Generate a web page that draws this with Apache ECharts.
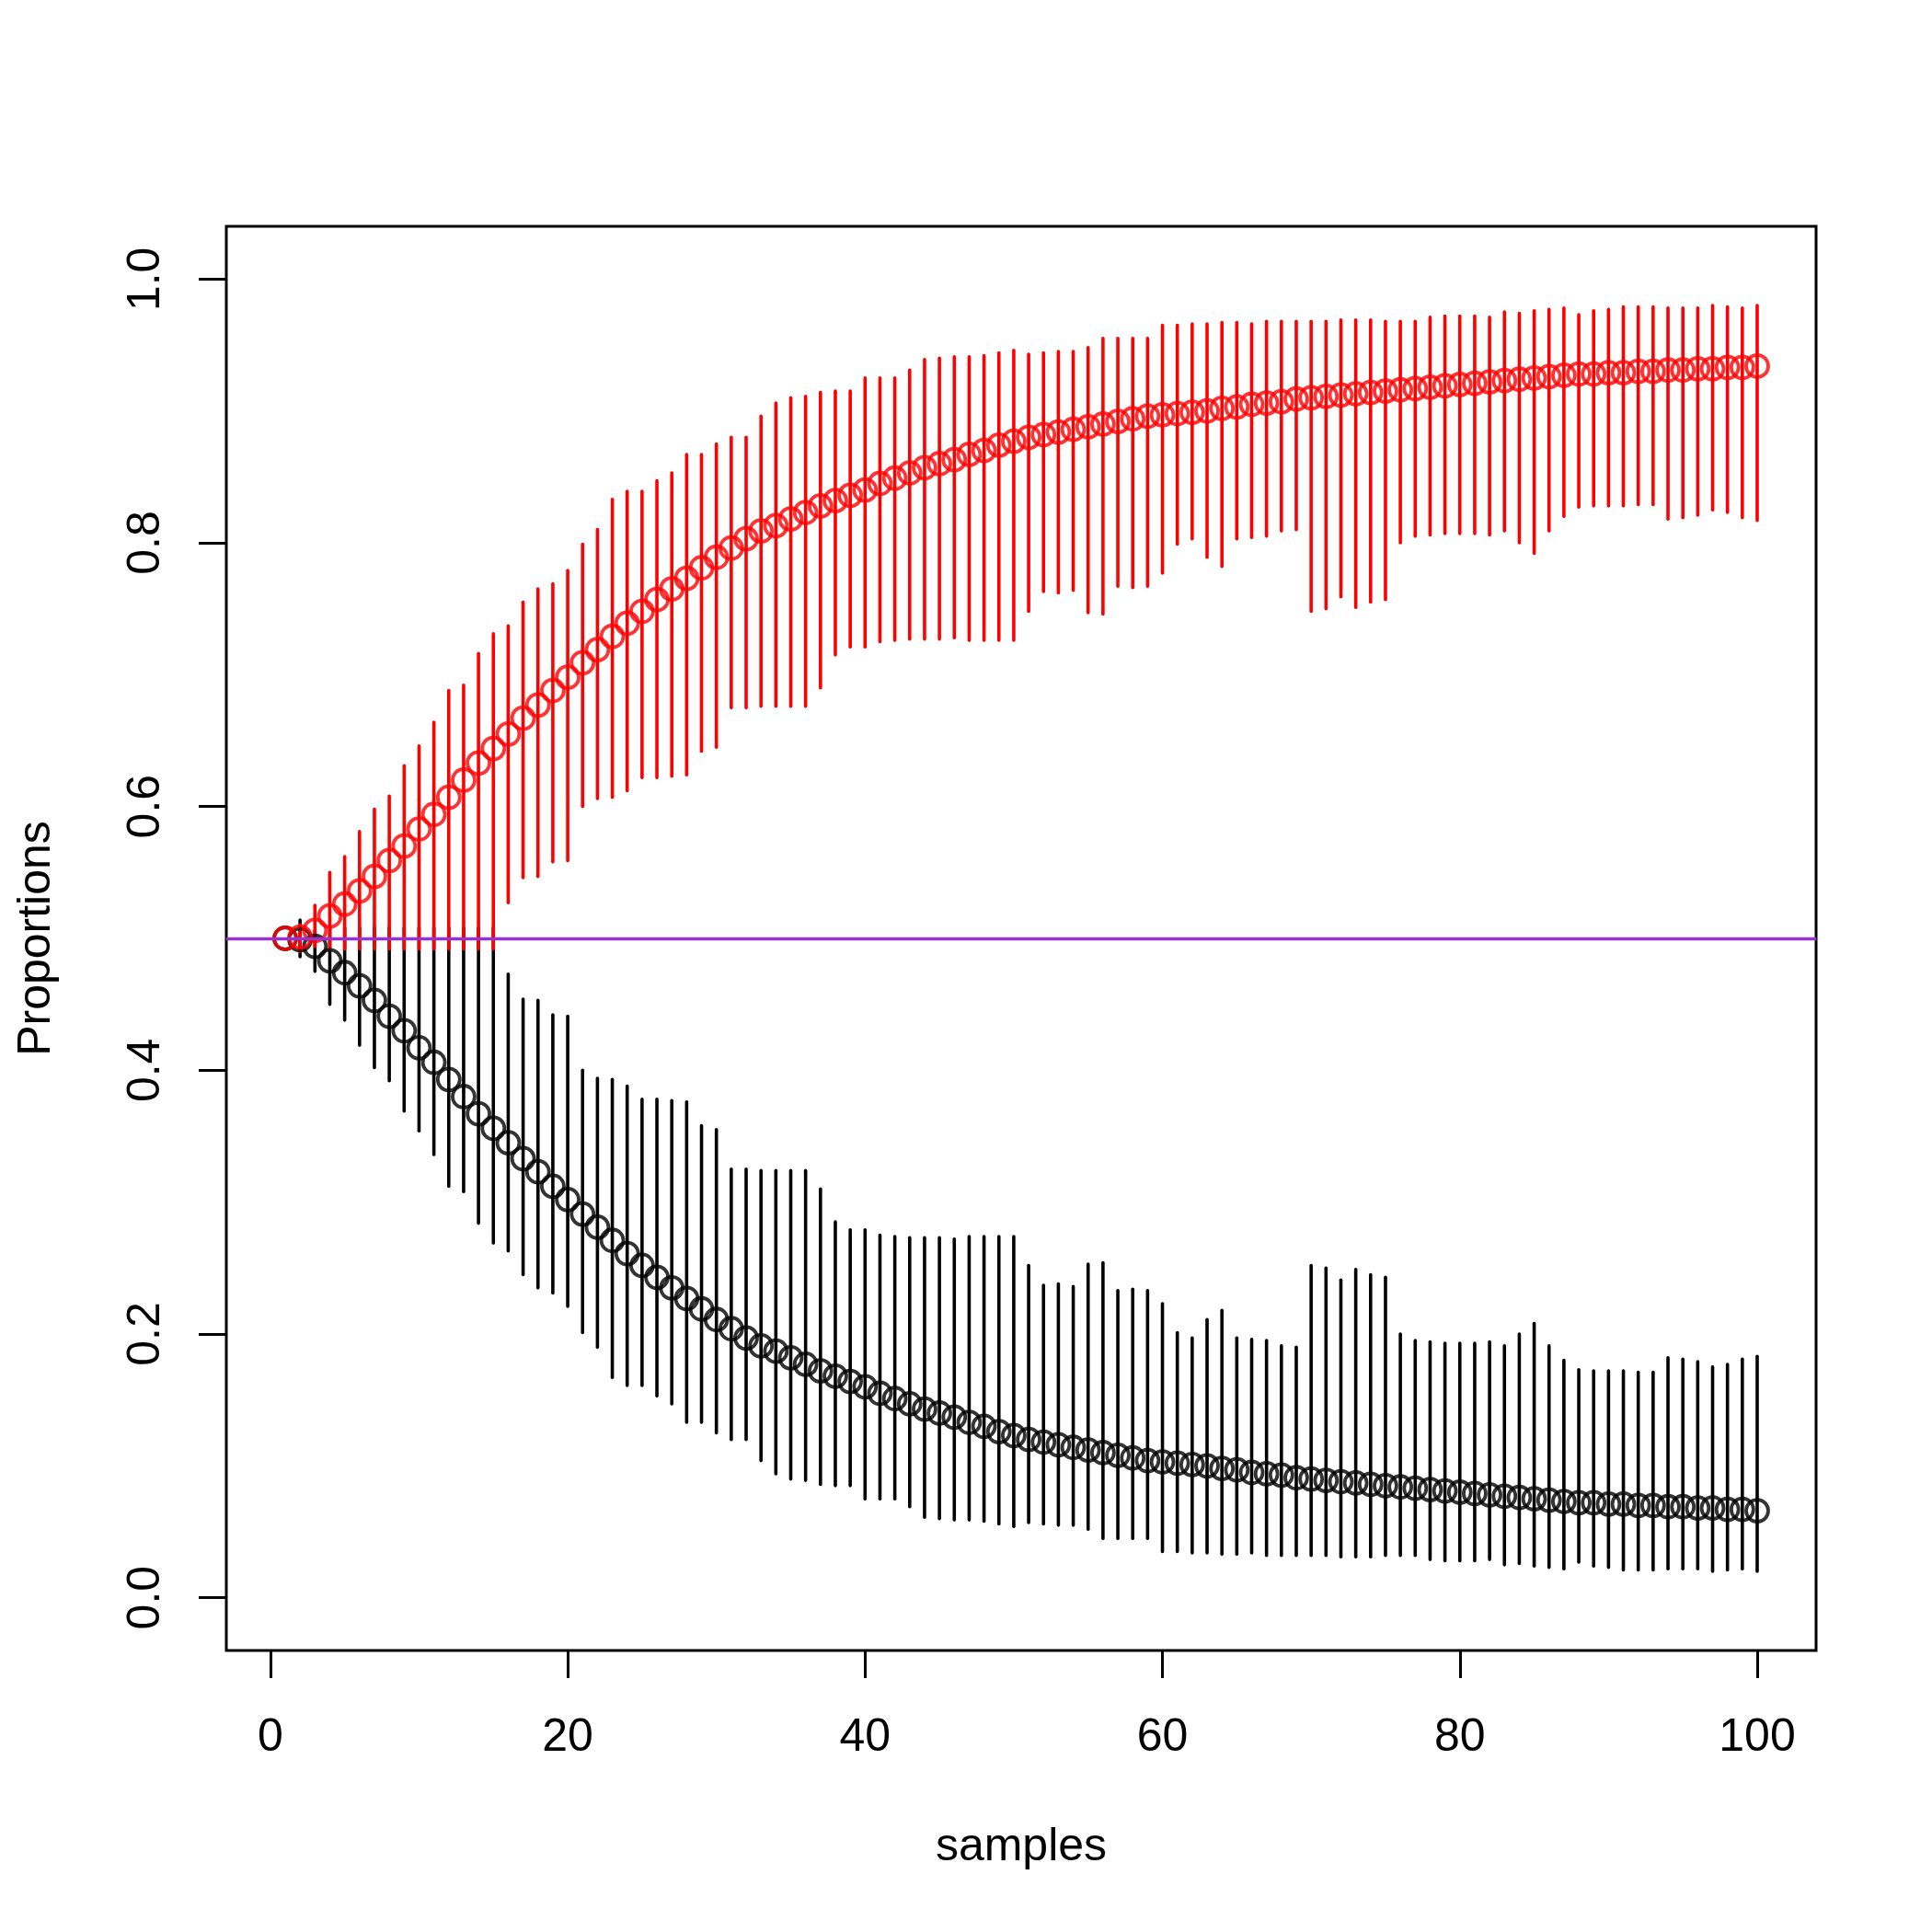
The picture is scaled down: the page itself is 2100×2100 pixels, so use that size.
<!DOCTYPE html>
<html>
<head>
<meta charset="utf-8">
<script src="https://cdn.jsdelivr.net/npm/echarts@6/dist/echarts.min.js"></script>
<style>
  html, body { margin: 0; padding: 0; background: #fff; }
  #chart { width: 2100px; height: 2100px; }
</style>
</head>
<body>
<div id="chart"></div>
<script>
// sample index
const samples = [1,2,3,4,5,6,7,8,9,10,11,12,13,14,15,16,17,18,19,20,
  21,22,23,24,25,26,27,28,29,30,31,32,33,34,35,36,37,38,39,40,
  41,42,43,44,45,46,47,48,49,50,51,52,53,54,55,56,57,58,59,60,
  61,62,63,64,65,66,67,68,69,70,71,72,73,74,75,76,77,78,79,80,
  81,82,83,84,85,86,87,88,89,90,91,92,93,94,95,96,97,98,99,100];

// red : mean, lower, upper
const redMean = [0.500,0.501,0.506,0.517,0.526,0.536,0.547,0.559,0.570,0.583,
  0.594,0.607,0.620,0.633,0.644,0.655,0.667,0.677,0.688,0.698,
  0.709,0.719,0.729,0.739,0.748,0.757,0.765,0.773,0.781,0.789,
  0.796,0.803,0.809,0.813,0.818,0.823,0.828,0.832,0.836,0.840,
  0.845,0.849,0.853,0.857,0.860,0.863,0.867,0.870,0.874,0.877,
  0.880,0.882,0.884,0.886,0.888,0.890,0.892,0.894,0.896,0.897,
  0.898,0.899,0.900,0.902,0.903,0.905,0.906,0.907,0.909,0.910,
  0.911,0.912,0.913,0.914,0.915,0.916,0.917,0.918,0.919,0.920,
  0.921,0.922,0.923,0.924,0.925,0.926,0.927,0.928,0.928,0.929,
  0.929,0.930,0.930,0.931,0.931,0.932,0.932,0.933,0.933,0.934];
const redLow = [0.500,0.490,0.494,0.492,0.492,0.492,0.492,0.492,0.492,0.492,
  0.492,0.492,0.492,0.492,0.492,0.527,0.546,0.547,0.558,0.559,
  0.600,0.606,0.607,0.612,0.622,0.622,0.623,0.624,0.642,0.645,
  0.675,0.675,0.676,0.676,0.676,0.676,0.690,0.715,0.721,0.721,
  0.725,0.726,0.727,0.727,0.727,0.728,0.726,0.726,0.726,0.726,
  0.748,0.763,0.762,0.764,0.747,0.746,0.767,0.766,0.767,0.777,
  0.799,0.803,0.789,0.782,0.803,0.804,0.805,0.809,0.810,0.748,
  0.750,0.759,0.751,0.755,0.757,0.800,0.805,0.806,0.807,0.807,
  0.807,0.806,0.809,0.800,0.792,0.809,0.820,0.827,0.828,0.828,
  0.828,0.829,0.829,0.818,0.819,0.821,0.825,0.823,0.819,0.817];
const redHigh = [0.500,0.510,0.525,0.550,0.562,0.581,0.598,0.608,0.631,0.646,
  0.664,0.688,0.692,0.716,0.731,0.737,0.755,0.765,0.769,0.779,
  0.799,0.810,0.833,0.839,0.839,0.847,0.853,0.867,0.867,0.875,
  0.880,0.880,0.896,0.906,0.910,0.911,0.914,0.915,0.915,0.925,
  0.925,0.925,0.931,0.939,0.940,0.941,0.941,0.942,0.944,0.946,
  0.943,0.944,0.945,0.945,0.948,0.955,0.955,0.955,0.955,0.965,
  0.965,0.966,0.966,0.967,0.967,0.966,0.968,0.968,0.968,0.968,
  0.968,0.969,0.969,0.969,0.968,0.968,0.968,0.971,0.972,0.972,
  0.972,0.971,0.975,0.974,0.976,0.977,0.978,0.973,0.976,0.977,
  0.979,0.979,0.979,0.978,0.978,0.978,0.980,0.979,0.978,0.980];

// black : mean, lower, upper
const blackMean = [0.500,0.499,0.494,0.483,0.474,0.464,0.453,0.441,0.430,0.417,
  0.406,0.393,0.380,0.367,0.356,0.345,0.333,0.323,0.312,0.302,
  0.291,0.281,0.271,0.261,0.252,0.243,0.235,0.227,0.219,0.211,
  0.204,0.197,0.191,0.187,0.182,0.177,0.172,0.168,0.164,0.160,
  0.155,0.151,0.147,0.143,0.140,0.137,0.133,0.130,0.126,0.123,
  0.120,0.118,0.116,0.114,0.112,0.110,0.108,0.106,0.104,0.103,
  0.102,0.101,0.100,0.098,0.097,0.095,0.094,0.093,0.091,0.090,
  0.089,0.088,0.087,0.086,0.085,0.084,0.083,0.082,0.081,0.080,
  0.079,0.078,0.077,0.076,0.075,0.074,0.073,0.072,0.072,0.071,
  0.071,0.070,0.070,0.069,0.069,0.068,0.068,0.067,0.067,0.066];
const blackLow = [0.500,0.486,0.475,0.450,0.438,0.419,0.402,0.392,0.369,0.354,
  0.336,0.312,0.308,0.284,0.269,0.263,0.245,0.235,0.231,0.221,
  0.201,0.190,0.167,0.161,0.161,0.153,0.147,0.133,0.133,0.125,
  0.120,0.120,0.104,0.094,0.090,0.089,0.086,0.085,0.085,0.075,
  0.075,0.075,0.069,0.061,0.060,0.059,0.059,0.058,0.056,0.054,
  0.057,0.056,0.055,0.055,0.052,0.045,0.045,0.045,0.045,0.035,
  0.035,0.034,0.034,0.033,0.033,0.034,0.032,0.032,0.032,0.032,
  0.032,0.031,0.031,0.031,0.032,0.032,0.032,0.029,0.028,0.028,
  0.028,0.029,0.025,0.026,0.024,0.023,0.022,0.027,0.024,0.023,
  0.021,0.021,0.021,0.022,0.022,0.022,0.020,0.021,0.022,0.020];
const blackHigh = [0.500,0.514,0.506,0.508,0.508,0.508,0.508,0.508,0.508,0.508,
  0.508,0.508,0.508,0.508,0.508,0.473,0.454,0.453,0.442,0.441,
  0.400,0.394,0.393,0.388,0.378,0.378,0.377,0.376,0.358,0.355,
  0.325,0.325,0.324,0.324,0.324,0.324,0.310,0.285,0.279,0.279,
  0.275,0.274,0.273,0.273,0.273,0.272,0.274,0.274,0.274,0.274,
  0.252,0.237,0.238,0.236,0.253,0.254,0.233,0.234,0.233,0.223,
  0.201,0.197,0.211,0.218,0.197,0.196,0.195,0.191,0.190,0.252,
  0.250,0.241,0.249,0.245,0.243,0.200,0.195,0.194,0.193,0.193,
  0.193,0.194,0.191,0.200,0.208,0.191,0.180,0.173,0.172,0.172,
  0.172,0.171,0.171,0.182,0.181,0.179,0.175,0.177,0.181,0.183];

const xTicks = [0, 20, 40, 60, 80, 100];
const yTicks = [0, 0.2, 0.4, 0.6, 0.8, 1.0];
const refLine = 0.5;

const font = "'Liberation Sans', Arial, Helvetica, sans-serif";

let chart = echarts.init(document.getElementById("chart"), null, { renderer: "canvas" });

// vertical interval lines
function barSeries(low, high, color) {
  let data = samples.map(function (s, i) {
    return [s, low[i], high[i]];
  });
  return {
    type: "custom",
    data: data,
    encode: { x: 0, y: [1, 2] },
    renderItem: function (params, api) {
      let p1 = api.coord([api.value(0), api.value(1)]);
      let p2 = api.coord([api.value(0), api.value(2)]);
      return {
        type: "line",
        shape: { x1: p1[0], y1: p1[1], x2: p2[0], y2: p2[1] },
        style: { stroke: color, lineWidth: 3.6, lineCap: "round" }
      };
    },
    silent: true
  };
}

function pointSeries(mean, color) {
  return {
    type: "scatter",
    data: samples.map(function (s, i) { return [s, mean[i]]; }),
    symbol: "circle",
    symbolSize: 24,
    itemStyle: { color: "rgba(0,0,0,0)", borderColor: color, borderWidth: 3.8 },
    silent: true
  };
}

let option = {
  animation: false,
  backgroundColor: "#fff",
  grid: {
    left: 246, right: 126, top: 246, bottom: 306,
    show: true, borderColor: "#000", borderWidth: 3, backgroundColor: "transparent"
  },
  xAxis: {
    type: "value",
    min: -2.96, max: 103.96,
    name: "samples",
    nameLocation: "middle",
    nameGap: 189,
    nameTextStyle: { fontFamily: font, fontSize: 50, color: "#000" },
    splitLine: { show: false },
    axisLine: { show: false, onZero: false },
    axisTick: { show: true, inside: false, length: 30, customValues: xTicks,
      lineStyle: { color: "#000", width: 3 } },
    axisLabel: { show: true, customValues: xTicks, margin: 70,
      fontFamily: font, fontSize: 50, color: "#000" }
  },
  yAxis: {
    type: "value",
    min: -0.04, max: 1.04,
    name: "Proportions",
    nameLocation: "middle",
    nameGap: 181,
    nameTextStyle: { fontFamily: font, fontSize: 50, color: "#000" },
    splitLine: { show: false },
    axisLine: { show: false, onZero: false },
    axisTick: { show: true, inside: false, length: 30, customValues: yTicks,
      lineStyle: { color: "#000", width: 3 } },
    axisLabel: { show: true, customValues: yTicks, margin: 62, rotate: 90,
      fontFamily: font, fontSize: 50, color: "#000",
      formatter: function (v) { return v.toFixed(1); } }
  },
  series: [
    barSeries(blackLow, blackHigh, "#000"),
    pointSeries(blackMean, "#000"),
    barSeries(redLow, redHigh, "#ff0000"),
    Object.assign(pointSeries(redMean, "#ff0000"), {
      markLine: {
        silent: true,
        symbol: ["none", "none"],
        label: { show: false },
        lineStyle: { color: "#9932cc", width: 3.4, type: "solid" },
        data: [{ yAxis: refLine }]
      }
    })
  ]
};

chart.setOption(option);
</script>
</body>
</html>
